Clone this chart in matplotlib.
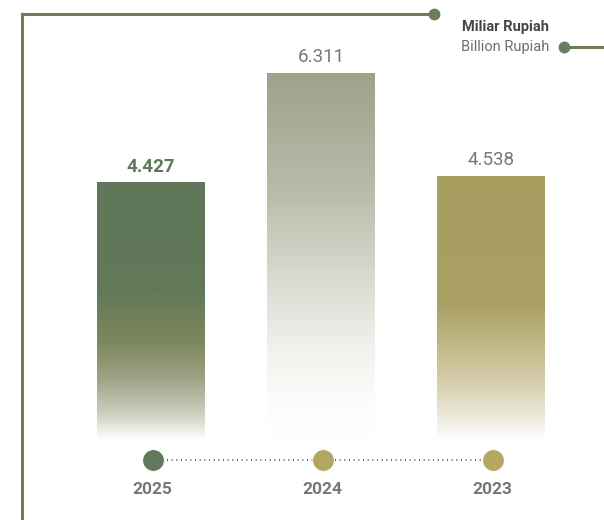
import matplotlib
matplotlib.use("Agg")
import matplotlib.pyplot as plt
import numpy as np
from matplotlib import transforms
from matplotlib.colors import LinearSegmentedColormap
from matplotlib.lines import Line2D

plt.rcParams['font.family'] = ['Roboto', 'DejaVu Sans']

# data
years = ['2025', '2024', '2023']
values = [4.427, 6.311, 4.538]
value_colors = ['#5f7a5a', '#77777a', '#77777a']
dot_colors = ['#62785a', '#b3a660', '#b6a95f']

# gradient stops per bar (fraction from top, colour)
bar_stops = [
    [(0.0, '#5e7859'), (0.42, '#627959'), (0.62, '#7d875d'), (0.76, '#9ca385'),
     (0.90, '#cdcfbf'), (1.0, '#ffffff')],
    [(0.0, '#9ea28b'), (0.32, '#b9bba9'), (0.58, '#dcddd4'), (0.76, '#f2f2ee'),
     (0.90, '#fcfcfb'), (1.0, '#ffffff')],
    [(0.0, '#a69d5f'), (0.48, '#aaa064'), (0.64, '#c2b887'), (0.80, '#d9d1b2'),
     (0.93, '#f1eee3'), (1.0, '#ffffff')],
]

W, H = 604, 520
fig = plt.figure(figsize=(W / 100, H / 100), dpi=100)
ax = fig.add_axes([0, 0, 1, 1])
ax.set_xlim(-0.888, 2.665)
ax.set_ylim(-1.376, 7.567)
ax.axis('off')

x = np.arange(len(years))
bw = 0.635
bars = ax.bar(x, values, width=bw, color='none', edgecolor='none')

for rect, stops in zip(bars, bar_stops):
    cmap = LinearSegmentedColormap.from_list('g', stops)
    grad = np.linspace(0, 1, 256).reshape(-1, 1)
    x0 = rect.get_x()
    h = rect.get_height()
    ax.imshow(grad, cmap=cmap, aspect='auto', origin='upper',
              extent=(x0, x0 + bw, 0, h), interpolation='bilinear', zorder=2)

for xi, v, c in zip(x, values, value_colors):
    ax.annotate(f'{v:.3f}', (xi, v), xytext=(0, 5), textcoords='offset points',
                ha='center', va='bottom', fontsize=13.5,
                fontweight='bold' if xi == 0 else 'normal', color=c)

# pixel helpers (origin top-left)
def fy(py):
    return 1 - py / H

def fx(px):
    return px / W

line_c = '#6a7d5d'
fig.add_artist(Line2D([fx(21.5), fx(21.5)], [fy(520), fy(14)], color=line_c, lw=2.2))
fig.add_artist(Line2D([fx(21.5), fx(434)], [fy(14), fy(14)], color=line_c, lw=2.2))
fig.add_artist(Line2D([fx(434)], [fy(14)], marker='o', ms=7.5, color=line_c))
fig.add_artist(Line2D([fx(564), fx(604)], [fy(47), fy(47)], color=line_c, lw=2.2))
fig.add_artist(Line2D([fx(564)], [fy(47)], marker='o', ms=7.5, color=line_c))

fig.text(fx(549), fy(27), 'Miliar Rupiah', ha='right', va='center',
         fontsize=10.5, fontweight='bold', color='#444444')
fig.text(fx(549), fy(47), 'Billion Rupiah', ha='right', va='center',
         fontsize=10.5, color='#6e6e6e')

# timeline of years under the bars
trans = transforms.blended_transform_factory(ax.transData, fig.transFigure)
ax.plot([x[0] + 0.01, x[-1]], [fy(460)] * 2, transform=trans, color='#444444',
        lw=1.2, ls=(0, (0.6, 2.2)), zorder=3, clip_on=False)
for xi, c in zip(x, dot_colors):
    ax.plot([xi + 0.01], [fy(460)], transform=trans, marker='o', ms=15.5,
            color=c, mec='white', mew=0.5, zorder=4, clip_on=False)
    ax.text(xi + 0.01, fy(490), years[xi], transform=trans, ha='center',
            va='center', fontsize=12.5, fontweight='bold', color='#77777a')

fig.savefig('out.png', dpi=100)
